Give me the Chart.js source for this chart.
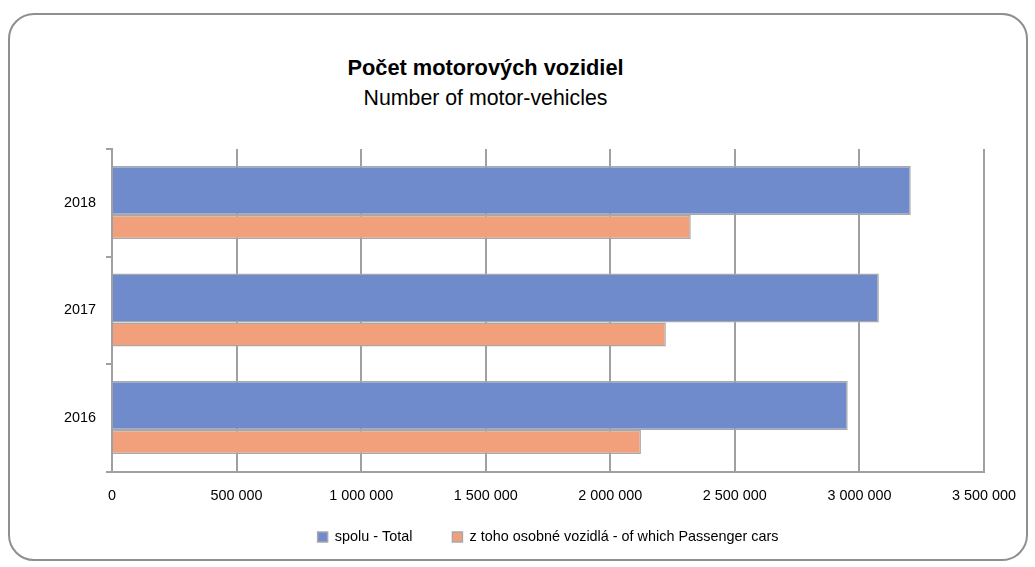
<!DOCTYPE html>
<html>
<head>
<meta charset="utf-8">
<script src="https://cdn.jsdelivr.net/npm/chart.js@4"></script>
<style>
  html, body { margin: 0; padding: 0; background: #fff; }
  #wrap { position: relative; width: 1035px; height: 567px; overflow: hidden; }
  #frame { position: absolute; left: 8px; top: 13px; width: 1020px; height: 548px; box-sizing: border-box;
           border: 2px solid #8f8f8f; border-radius: 26px; }
  .title { position: absolute; left: 0; width: 971px; text-align: center; color: #000;
           font-family: "Liberation Sans", Arial, sans-serif; line-height: 1; white-space: nowrap; }
  #t1 { top: 57px; font-size: 21.8px; font-weight: bold; }
  #t2 { top: 88px; font-size: 21.3px; }
  #c { position: absolute; left: 0; top: 0; width: 1035px; height: 567px; }
</style>
</head>
<body>
<div id="wrap">
  <div id="frame"></div>
  <div class="title" id="t1">Počet motorových vozidiel</div>
  <div class="title" id="t2">Number of motor-vehicles</div>
  <canvas id="c" width="1035" height="567"></canvas>
</div>
<script>
// ---- data ----
const years = ['2018', '2017', '2016'];
const totalVehicles = [3206000, 3078000, 2953000];
const passengerCars = [2323000, 2223000, 2123000];
const seriesNames = ['spolu - Total', 'z toho osobné vozidlá - of which Passenger cars'];
const xMin = 0;
const xMax = 3500000;
const xStep = 500000;

// ---- fonts ----
function hasFont(name) {
  const ctx = document.createElement('canvas').getContext('2d');
  const s = 'abcdefghijklmnop 0123456789';
  ctx.font = '40px monospace';
  const a = ctx.measureText(s).width;
  ctx.font = '40px "' + name + '", monospace';
  const b = ctx.measureText(s).width;
  return Math.abs(a - b) > 0.5;
}
const narrow = hasFont('Liberation Sans Narrow');
const labelFont = narrow
  ? { family: "'Liberation Sans Narrow'", size: 17.5 }
  : { family: "'Liberation Sans', Arial, sans-serif", size: 14.4 };

const fmt = v => String(v).replace(/\B(?=(\d{3})+(?!\d))/g, ' ');
const gridColor = '#a0a0a0';

new Chart(document.getElementById('c'), {
  type: 'bar',
  data: {
    labels: years,
    datasets: [
      {
        label: seriesNames[0],
        data: totalVehicles,
        backgroundColor: '#6F8BCB',
        borderColor: '#A8A8A8',
        borderWidth: 1.5,
        categoryPercentage: 0.459,
        barPercentage: 1.984
      },
      {
        label: seriesNames[1],
        data: passengerCars,
        backgroundColor: '#F2A07B',
        borderColor: '#A8A8A8',
        borderWidth: 1.5,
        categoryPercentage: 0.898,
        barPercentage: 0.497
      }
    ]
  },
  options: {
    responsive: false,
    animation: false,
    indexAxis: 'y',
    layout: { padding: { top: 149, left: 56, right: 51, bottom: 12.8 } },
    plugins: {
      title: { display: false },
      tooltip: { enabled: false },
      legend: {
        position: 'bottom',
        fullSize: false,
        labels: { boxWidth: 10, boxHeight: 10, padding: 40, font: labelFont, color: '#000' }
      }
    },
    scales: {
      x: {
        min: xMin, max: xMax,
        ticks: { stepSize: xStep, callback: v => fmt(v), font: labelFont, color: '#000',
                 mirror: true, padding: -(24.9 + 0.6 * labelFont.size), maxRotation: 0, autoSkip: false },
        grid: { color: gridColor, lineWidth: 2, drawTicks: false },
        border: { color: gridColor, width: 2 },
        afterFit(s) { s.height = 18.2; }
      },
      y: {
        ticks: { font: labelFont, color: '#000', padding: 10 },
        grid: { drawOnChartArea: false, offset: true, tickLength: 6, color: gridColor, lineWidth: 2 },
        border: { color: gridColor, width: 2 },
        afterFit(s) { s.width = 56; }
      }
    }
  }
});
</script>
</body>
</html>
